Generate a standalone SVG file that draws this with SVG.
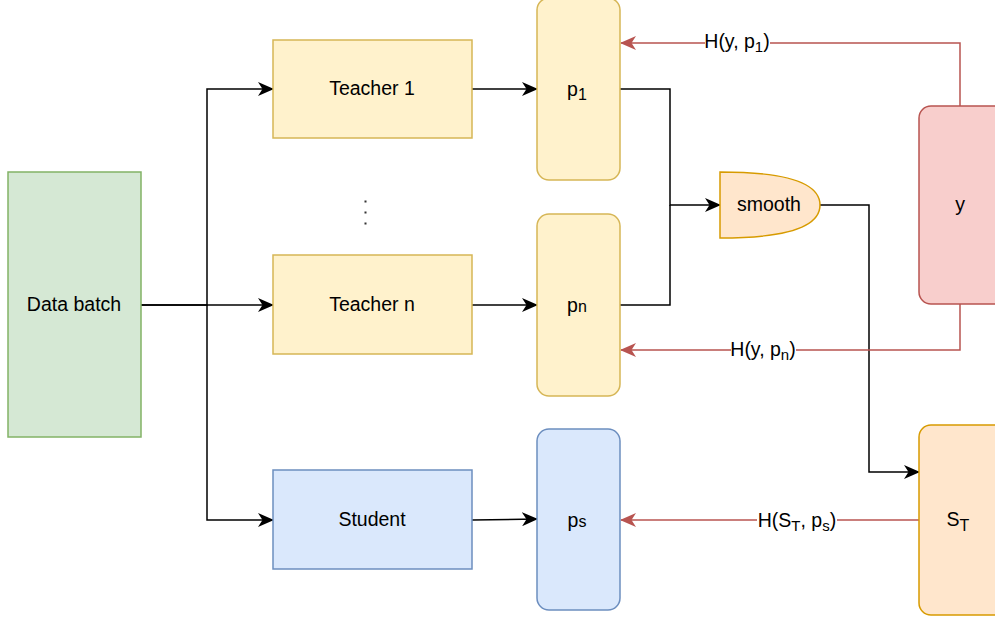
<svg xmlns="http://www.w3.org/2000/svg" width="995" height="621" viewBox="0 0 995 621">
<defs>
<marker id="ab" markerWidth="16" markerHeight="14" refX="15" refY="7" orient="auto" markerUnits="userSpaceOnUse"><path d="M0,0 L16,7 L0,14 L4.5,7 Z" fill="#000"/></marker>
<marker id="ar" markerWidth="16" markerHeight="14" refX="15" refY="7" orient="auto" markerUnits="userSpaceOnUse"><path d="M0,0 L16,7 L0,14 L4.5,7 Z" fill="#b85450"/></marker>
</defs>
<style>
text{font-family:"Liberation Sans",Arial,sans-serif;font-size:19.5px;fill:#000;text-anchor:middle}
.blk{fill:none;stroke:#000;stroke-width:1.5}
.red{fill:none;stroke:#b85450;stroke-width:1.5}
.green{fill:#d5e8d4;stroke:#82b366;stroke-width:1.5}
.yel{fill:#fff2cc;stroke:#d6b656;stroke-width:1.5}
.blue{fill:#dae8fc;stroke:#6c8ebf;stroke-width:1.5}
.org{fill:#ffe6cc;stroke:#d79b00;stroke-width:1.5}
.pink{fill:#f8cecc;stroke:#b85450;stroke-width:1.5}
.lbl{fill:#fff}
</style>
<rect width="995" height="621" fill="#fff"/>
<g id="connectors">
<path class="blk" d="M141,305 L207,305 L207,89 L273,89" marker-end="url(#ab)"/>
<path class="blk" d="M141,305 L273,305" marker-end="url(#ab)"/>
<path class="blk" d="M207,305 L207,520 L273,520" marker-end="url(#ab)"/>
<path class="blk" d="M472,89 L537,89" marker-end="url(#ab)"/>
<path class="blk" d="M472,305 L537,305" marker-end="url(#ab)"/>
<path class="blk" d="M472,520 L537,519" marker-end="url(#ab)"/>
<path class="blk" d="M620,89 L670,89 L670,205 L720,205" marker-end="url(#ab)"/>
<path class="blk" d="M620,305 L670,305 L670,205"/>
<path class="blk" d="M820,205 L869,205 L869,472 L919,472" marker-end="url(#ab)"/>
<path class="red" d="M960,106 L960,43 L621,43" marker-end="url(#ar)"/>
<path class="red" d="M960,304 L960,350 L621,350" marker-end="url(#ar)"/>
<path class="red" d="M919,520 L621,520" marker-end="url(#ar)"/>
<rect class="lbl" x="705" y="31" width="65" height="22"/>
<text x="737" y="48">H(y, p<tspan font-size="15" dy="4">1</tspan><tspan dy="-4">)</tspan></text>
<rect class="lbl" x="731" y="338" width="65" height="24"/>
<text x="763" y="356">H(y, p<tspan font-size="15" dy="4">n</tspan><tspan dy="-4">)</tspan></text>
<rect class="lbl" x="757" y="508" width="80" height="26"/>
<text x="797" y="527">H(S<tspan font-size="15" dy="4">T</tspan><tspan dy="-4">, p</tspan><tspan font-size="15" dy="4">s</tspan><tspan dy="-4">)</tspan></text>
</g>
<g id="data-batch">
<rect class="green" x="8" y="172" width="133" height="265"/>
<text x="74" y="311">Data batch</text>
</g>
<g id="teacher-1">
<rect class="yel" x="273" y="40" width="199" height="98"/>
<text x="372" y="95">Teacher 1</text>
</g>
<g id="ellipsis">
<rect x="364.5" y="200.5" width="2" height="2" fill="#333"/>
<rect x="364.5" y="211.5" width="2" height="2" fill="#333"/>
<rect x="364.5" y="222.5" width="2" height="2" fill="#333"/>
</g>
<g id="teacher-n">
<rect class="yel" x="273" y="255" width="199" height="99"/>
<text x="372" y="311">Teacher n</text>
</g>
<g id="student">
<rect class="blue" x="273" y="470" width="199" height="99"/>
<text x="372" y="526">Student</text>
</g>
<g id="p1">
<rect class="yel" x="537" y="-2" width="83" height="182" rx="12"/>
<text x="577" y="96">p<tspan font-size="16" dy="4">1</tspan></text>
</g>
<g id="pn">
<rect class="yel" x="537" y="214" width="83" height="182" rx="12"/>
<text x="577" y="312">p<tspan font-size="16">n</tspan></text>
</g>
<g id="ps">
<rect class="blue" x="537" y="429" width="83" height="181" rx="12"/>
<text x="577" y="527">p<tspan font-size="16">s</tspan></text>
</g>
<g id="smooth">
<path class="org" d="M720,172 Q820,172 820,205 Q820,238 720,238 Z"/>
<text x="769" y="211">smooth</text>
</g>
<g id="y">
<rect class="pink" x="919" y="106" width="90" height="198" rx="12"/>
<text x="960" y="211">y</text>
</g>
<g id="st">
<rect class="org" x="919" y="425" width="90" height="190" rx="12"/>
<text x="958" y="526" font-size="21">S<tspan font-size="16" dy="5">T</tspan></text>
</g>
</svg>
